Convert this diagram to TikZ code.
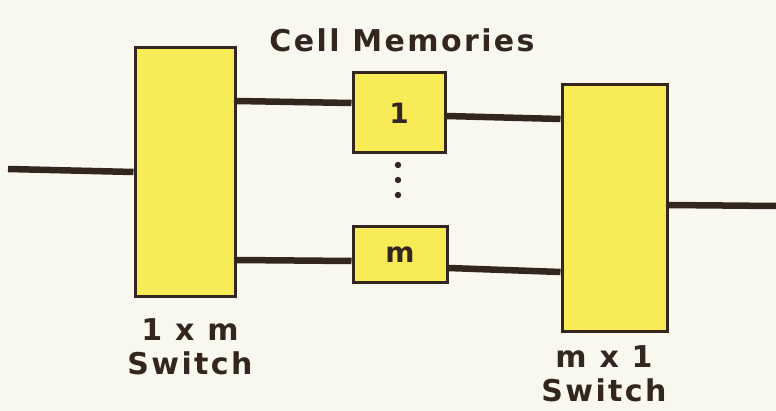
\documentclass[tikz,border=0pt]{standalone}
\usepackage{fontspec}
\setmainfont{DejaVu Sans}
\definecolor{bg}{HTML}{F8F8EE}
\definecolor{ink}{HTML}{33261F}
\definecolor{boxy}{HTML}{F7EC55}
\begin{document}
\begin{tikzpicture}[x=1pt,y=-1pt,
  swbox/.style={draw=ink,line width=3pt,fill=boxy,minimum width=#1,inner sep=0pt},
  wire/.style={draw=ink,line width=6.5pt},
  lbl/.style={text=ink,font=\bfseries\addfontfeature{LetterSpace=8}\fontsize{30}{34}\selectfont,align=center,inner sep=0pt}]
\fill[bg] (0,0) rectangle (776,411);
\useasboundingbox (0,0) rectangle (776,411);
\node[swbox=100pt,minimum height=249pt] (ls) at (185,172) {};
\node[swbox=105pt,minimum height=247pt] (rs) at (614.5,208.5) {};
\node[swbox=92pt,minimum height=80pt,font=\bfseries\fontsize{28}{30}\selectfont,text=ink] (b1) at (399,113) {1};
\node[swbox=94pt,minimum height=56pt,font=\bfseries\fontsize{28}{30}\selectfont,text=ink] (bm) at (400,255) {m};
\coordinate (in) at (8,169);
\coordinate (out) at (776,206);
\draw[wire] (in) -- (ls.west);
\draw[wire] ([yshift=71pt]ls.east) -- ([yshift=10pt]b1.west);
\draw[wire] ([yshift=-3pt]b1.east) -- ([yshift=89.5pt]rs.west);
\draw[wire] ([yshift=-88pt]ls.east) -- ([yshift=-6pt]bm.west);
\draw[wire] ([yshift=-13pt]bm.east) -- ([yshift=-63.5pt]rs.west);
\draw[wire] ([yshift=3.5pt]rs.east) -- (out);
\foreach \yy in {165,180,195} \fill[ink] (398,\yy) circle (3.2pt);
\node[lbl] (title) at (402,40) {Cell Memories};
\node[lbl] (lsl) at (190,347) {1 x m\\Switch};
\node[lbl] (rsl) at (604,374) {m x 1\\Switch};
\end{tikzpicture}
\end{document}
